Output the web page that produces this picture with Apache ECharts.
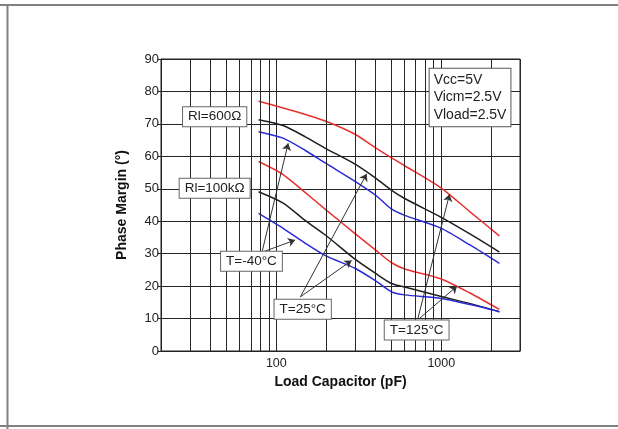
<!DOCTYPE html>
<html>
<head>
<meta charset="utf-8">
<script src="https://cdn.jsdelivr.net/npm/echarts@6/dist/echarts.min.js"></script>
<style>
  html, body { margin: 0; padding: 0; background: #fff; }
  #chart { width: 618px; height: 429px; }
</style>
</head>
<body>
<div id="chart"></div>
<script>
// Load capacitance sweep (pF)
const capacitance = [78, 110, 150, 200, 300, 400, 500, 600, 1000, 1500, 2250];

// Phase margin (degrees), Rl = 600 ohm
const pm600Hot  = [77.0, 74.9, 72.9, 70.8, 66.8, 62.6, 59.5, 57.1, 50.2, 42.8, 35.5]; // T=125°C
const pm600Room = [71.3, 69.5, 66.0, 62.4, 57.6, 53.3, 49.5, 47.0, 41.2, 36.0, 30.5]; // T=25°C
const pm600Cold = [67.6, 65.6, 61.8, 57.8, 52.3, 48.0, 43.7, 41.8, 37.8, 32.6, 27.0]; // T=-40°C

// Phase margin (degrees), Rl = 100 kohm
const pm100kHot  = [58.4, 54.4, 48.8, 43.5, 36.2, 31.1, 27.2, 25.3, 22.2, 17.8, 12.8];
const pm100kRoom = [49.1, 45.6, 40.2, 35.6, 28.3, 23.9, 20.8, 19.7, 16.8, 14.6, 12.1];
const pm100kCold = [42.4, 37.8, 33.2, 29.3, 25.5, 21.6, 18.2, 17.3, 16.2, 14.3, 12.1];

// Axis ticks
const xLabelTicks = [100, 1000];
const xGridTicks = [30, 40, 50, 60, 70, 80, 90, 200, 300, 400, 500, 600, 700, 800, 900, 2000];
const yTicks = { min: 0, max: 90, interval: 10 };

const FONT = "'Liberation Sans', Arial, sans-serif";
const RED = '#e8312f', BLACK = '#1e1e1e', BLUE = '#2b2bd6';

function pairs(values) {
  return capacitance.map((c, i) => [c, values[i]]);
}

function curve(name, values, color) {
  return {
    name, type: 'line', data: pairs(values), smooth: 0.25,
    showSymbol: false, symbol: 'none', z: 4, silent: true,
    lineStyle: { color, width: 1.5 }
  };
}

const boxLabel = {
  show: true, position: 'inside', color: '#222', fontFamily: FONT, fontSize: 13.5,
  backgroundColor: '#fff', borderColor: '#666', borderWidth: 1, padding: [3, 5, 2, 5]
};

function box(text, x, y) {
  return { coord: [x, y], value: text, label: Object.assign({}, boxLabel, { formatter: text }) };
}

function arrow(x1, y1, x2, y2) {
  return [{ coord: [x1, y1], symbol: 'none' }, { coord: [x2, y2], symbol: 'arrow', symbolSize: 7 }];
}

const chart = echarts.init(document.getElementById('chart'), null, { renderer: 'canvas' });

chart.setOption({
  animation: false,
  backgroundColor: '#fff',
  grid: { left: 161, right: 98, top: 59, bottom: 78, show: true, borderColor: '#222', borderWidth: 1, backgroundColor: 'transparent' },
  xAxis: {
    type: 'log', logBase: 10, min: 20, max: 3000,
    name: 'Load Capacitor (pF)', nameLocation: 'middle', nameGap: 23,
    nameTextStyle: { fontFamily: FONT, fontSize: 14, fontWeight: 'bold', color: '#111' },
    axisLine: { show: true, lineStyle: { color: '#222', width: 1 } },
    axisTick: { show: false },
    axisLabel: {
      margin: 6, fontFamily: FONT, fontSize: 12.5, color: '#222',
      showMinLabel: false, showMaxLabel: false,
      formatter: v => xLabelTicks.includes(Math.round(v)) ? String(Math.round(v)) : ''
    },
    splitLine: { show: true, lineStyle: { color: '#262626', width: 1 } },
    minorTick: { show: false }, minorSplitLine: { show: false }
  },
  yAxis: {
    type: 'value', min: yTicks.min, max: yTicks.max, interval: yTicks.interval,
    name: 'Phase Margin (°)', nameLocation: 'middle', nameGap: 32, nameRotate: 90,
    nameTextStyle: { fontFamily: FONT, fontSize: 14, fontWeight: 'bold', color: '#111' },
    axisLine: { show: true, lineStyle: { color: '#222', width: 1 } },
    axisTick: { show: true, length: 3, lineStyle: { color: '#222' } },
    axisLabel: { margin: 2, fontFamily: FONT, fontSize: 13, color: '#222', padding: [0, 0, 8, 0] },
    splitLine: { show: true, lineStyle: { color: '#262626', width: 1 } }
  },
  graphic: [
    { type: 'line', shape: { x1: 0, y1: 5, x2: 618, y2: 5 }, style: { stroke: '#808080', lineWidth: 2 }, silent: true },
    { type: 'line', shape: { x1: 7.5, y1: 5, x2: 7.5, y2: 429 }, style: { stroke: '#808080', lineWidth: 2 }, silent: true },
    { type: 'line', shape: { x1: 0, y1: 426, x2: 618, y2: 426 }, style: { stroke: '#808080', lineWidth: 2 }, silent: true }
  ],
  series: [
    // minor decade grid lines
    {
      name: 'grid', type: 'line', data: [], z: 1, silent: true,
      markLine: {
        silent: true, symbol: ['none', 'none'], label: { show: false },
        lineStyle: { color: '#262626', width: 1, type: 'solid' },
        emphasis: { disabled: true },
        data: xGridTicks.map(v => ({ xAxis: v }))
      }
    },
    curve('Rl=600Ω T=125°C', pm600Hot, RED),
    curve('Rl=600Ω T=25°C', pm600Room, BLACK),
    curve('Rl=600Ω T=-40°C', pm600Cold, BLUE),
    curve('Rl=100kΩ T=125°C', pm100kHot, RED),
    curve('Rl=100kΩ T=25°C', pm100kRoom, BLACK),
    curve('Rl=100kΩ T=-40°C', pm100kCold, BLUE),
    // callouts
    {
      name: 'notes', type: 'line', data: [], z: 6, silent: true,
      markLine: {
        silent: true, symbol: ['none', 'arrow'], symbolSize: 7, label: { show: false },
        lineStyle: { color: '#333', width: 1, type: 'solid' },
        itemStyle: { color: '#333' },
        emphasis: { disabled: true },
        data: [
          arrow(82, 30.6, 118, 64.0),
          arrow(83.5, 30.6, 130, 34.2),
          arrow(140, 16.7, 353, 54.6),
          arrow(140, 16.7, 286, 27.9),
          arrow(722, 10.1, 1122, 48.3),
          arrow(740, 10.1, 1246, 20.0)
        ]
      },
      markPoint: {
        silent: true, symbol: 'rect', symbolSize: 0,
        data: [
          box('Rl=600Ω', 42.3, 72.2),
          box('Rl=100kΩ', 42.3, 50.2),
          box('T=-40°C', 70.7, 27.7),
          box('T=25°C', 144.5, 12.9),
          box('T=125°C', 709, 6.5),
          {
            coord: [850, 78.1], value: 'cond',
            label: {
              show: true, position: 'right', distance: 0, color: '#222', fontFamily: FONT, fontSize: 14,
              lineHeight: 17.5, align: 'left',
              backgroundColor: '#fff', borderColor: '#555', borderWidth: 1, padding: [3, 4, 2, 4],
              formatter: 'Vcc=5V\nVicm=2.5V\nVload=2.5V'
            }
          }
        ]
      }
    }
  ]
});
</script>
</body>
</html>
